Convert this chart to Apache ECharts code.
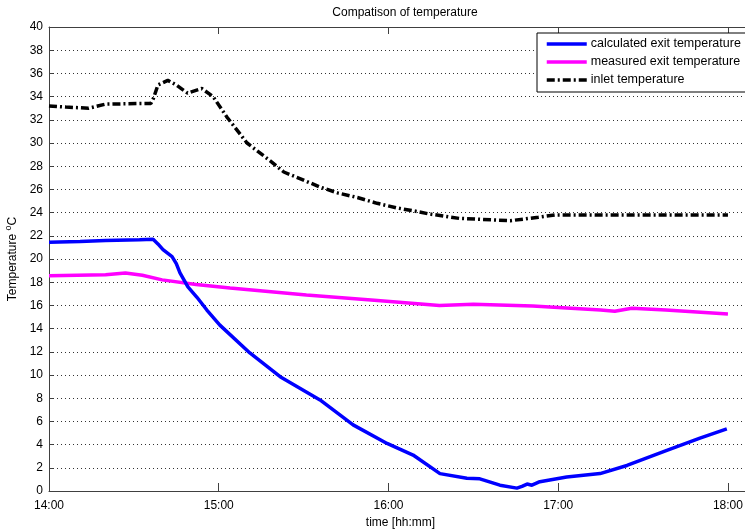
<!DOCTYPE html>
<html>
<head>
<meta charset="utf-8">
<script src="https://cdn.jsdelivr.net/npm/echarts@6/dist/echarts.min.js"></script>
<style>
  html, body { margin: 0; padding: 0; background: #fff; }
  #chart { width: 745px; height: 531px; }
</style>
</head>
<body>
<div id="chart"></div>
<script>
// Time is in minutes after 14:00.
const timeTicks = ['14:00', '15:00', '16:00', '17:00', '18:00'];
const seriesNames = ['calculated exit temperature', 'measured exit temperature', 'inlet temperature'];

const calcMin  = [0, 11, 20, 32, 36.8, 38.5, 40.3, 43.5, 45, 46.3, 49.1, 52.3, 55.8, 60.4, 71, 81.7, 95.8, 107.5, 119.5, 128.7, 138.2, 147.7, 152.3, 159.4, 165.4, 167.2, 169, 170.7, 173.5, 183, 194.8, 204.3, 218.4, 230.1, 239.6];
const calcTemp = [21.45, 21.5, 21.6, 21.65, 21.7, 21.3, 20.8, 20.2, 19.6, 18.8, 17.6, 16.7, 15.6, 14.3, 11.9, 9.85, 7.85, 5.7, 4.1, 3.1, 1.5, 1.1, 1.05, 0.5, 0.25, 0.4, 0.6, 0.5, 0.8, 1.2, 1.5, 2.2, 3.5, 4.55, 5.35];

const measMin  = [0, 10, 20, 27, 33, 40, 52, 64, 91, 115, 138, 150, 171, 195, 200, 206, 218, 240];
const measTemp = [18.55, 18.6, 18.65, 18.8, 18.6, 18.2, 17.8, 17.5, 16.9, 16.45, 16.0, 16.1, 15.95, 15.6, 15.5, 15.75, 15.6, 15.25];

const inletMin  = [0, 6, 14, 20, 32, 36, 37, 38.5, 42, 45, 49, 54, 58, 63, 70, 78, 83, 90, 95.8, 102, 109, 116, 123, 130, 134, 145, 163, 173, 179, 240];
const inletTemp = [33.2, 33.1, 33.0, 33.35, 33.4, 33.4, 33.9, 35.0, 35.4, 35.0, 34.3, 34.7, 34.0, 32.2, 30.0, 28.5, 27.5, 26.8, 26.2, 25.7, 25.3, 24.8, 24.4, 24.1, 23.9, 23.5, 23.3, 23.6, 23.8, 23.8];

const pairs = (xs, ys) => xs.map((x, i) => [x, ys[i]]);
const fmtTime = v => timeTicks[Math.round(v / 60)] || '';

const FONT = "'Liberation Sans', Arial, sans-serif";
const AXIS_COLOR = '#404040';
const X_MAX = 248.5;

const chart = echarts.init(document.getElementById('chart'), null, { renderer: 'canvas' });
chart.setOption({
  animation: false,
  backgroundColor: '#fff',
  textStyle: { fontFamily: FONT },
  title: {
    text: 'Compatison of temperature',
    left: 400,
    textAlign: 'center',
    top: 2,
    textStyle: { fontFamily: FONT, fontSize: 12, fontWeight: 'normal', color: '#000' }
  },
  grid: { left: 49, right: -7, top: 27, bottom: 40, containLabel: false, outerBoundsMode: 'none' },
  legend: {
    orient: 'vertical',
    left: 537,
    top: 33,
    padding: [4, 10, 5, 8],
    itemWidth: 40,
    itemHeight: 14,
    itemGap: 4,
    backgroundColor: '#fff',
    borderColor: '#000',
    borderWidth: 1,
    borderRadius: 0,
    itemStyle: { opacity: 0 },
    lineStyle: { width: 3.5 },
    textStyle: { fontFamily: FONT, fontSize: 12.5, color: '#000', padding: [0, 0, 0, -1], lineHeight: 14 },
    data: seriesNames
  },
  xAxis: [{
    type: 'value',
    min: 0,
    max: X_MAX,
    interval: 60,
    name: 'time [hh:mm]',
    nameLocation: 'middle',
    nameGap: 24,
    nameTextStyle: { fontFamily: FONT, fontSize: 12, color: '#000' },
    axisLine: { show: true, lineStyle: { color: AXIS_COLOR, width: 1 } },
    axisTick: { show: true, inside: true, length: 8, lineStyle: { color: AXIS_COLOR } },
    axisLabel: { fontFamily: FONT, fontSize: 12, color: '#000', margin: 9, formatter: fmtTime, showMaxLabel: false },
    splitLine: { show: false }
  }, {
    type: 'value',
    position: 'top',
    min: 0,
    max: X_MAX,
    interval: 60,
    axisLine: { show: true, lineStyle: { color: AXIS_COLOR, width: 1 } },
    axisTick: { show: true, inside: true, length: 7, lineStyle: { color: AXIS_COLOR } },
    axisLabel: { show: false },
    splitLine: { show: false }
  }],
  yAxis: {
    type: 'value',
    min: 0,
    max: 40,
    interval: 2,
    name: '{a|Temperature }{s|o}{a|C}',
    nameLocation: 'middle',
    nameGap: 23,
    nameTextStyle: {
      fontFamily: FONT, fontSize: 12, color: '#000',
      rich: {
        a: { fontFamily: FONT, fontSize: 12, color: '#000' },
        s: { fontFamily: FONT, fontSize: 9, color: '#000', padding: [0, 0, 8, 0] }
      }
    },
    axisLine: { show: true, lineStyle: { color: AXIS_COLOR, width: 1 } },
    axisTick: { show: true, inside: true, length: 4, lineStyle: { color: AXIS_COLOR } },
    axisLabel: { fontFamily: FONT, fontSize: 12, color: '#000', margin: 6 },
    splitLine: { show: true, lineStyle: { color: '#333', width: 1, type: [1, 3] } }
  },
  series: [{
    name: seriesNames[0],
    type: 'line',
    data: pairs(calcMin, calcTemp),
    symbol: 'none',
    lineStyle: { color: '#0000ff', width: 3.5 },
    itemStyle: { color: '#0000ff' },
    z: 4
  }, {
    name: seriesNames[1],
    type: 'line',
    data: pairs(measMin, measTemp),
    symbol: 'none',
    lineStyle: { color: '#ff00ff', width: 3.5 },
    itemStyle: { color: '#ff00ff' },
    z: 3
  }, {
    name: seriesNames[2],
    type: 'line',
    data: pairs(inletMin, inletTemp),
    symbol: 'none',
    lineStyle: { color: '#000', width: 3.5, type: [8, 3, 2, 3] },
    itemStyle: { color: '#000' },
    z: 5
  }]
});
</script>
</body>
</html>
